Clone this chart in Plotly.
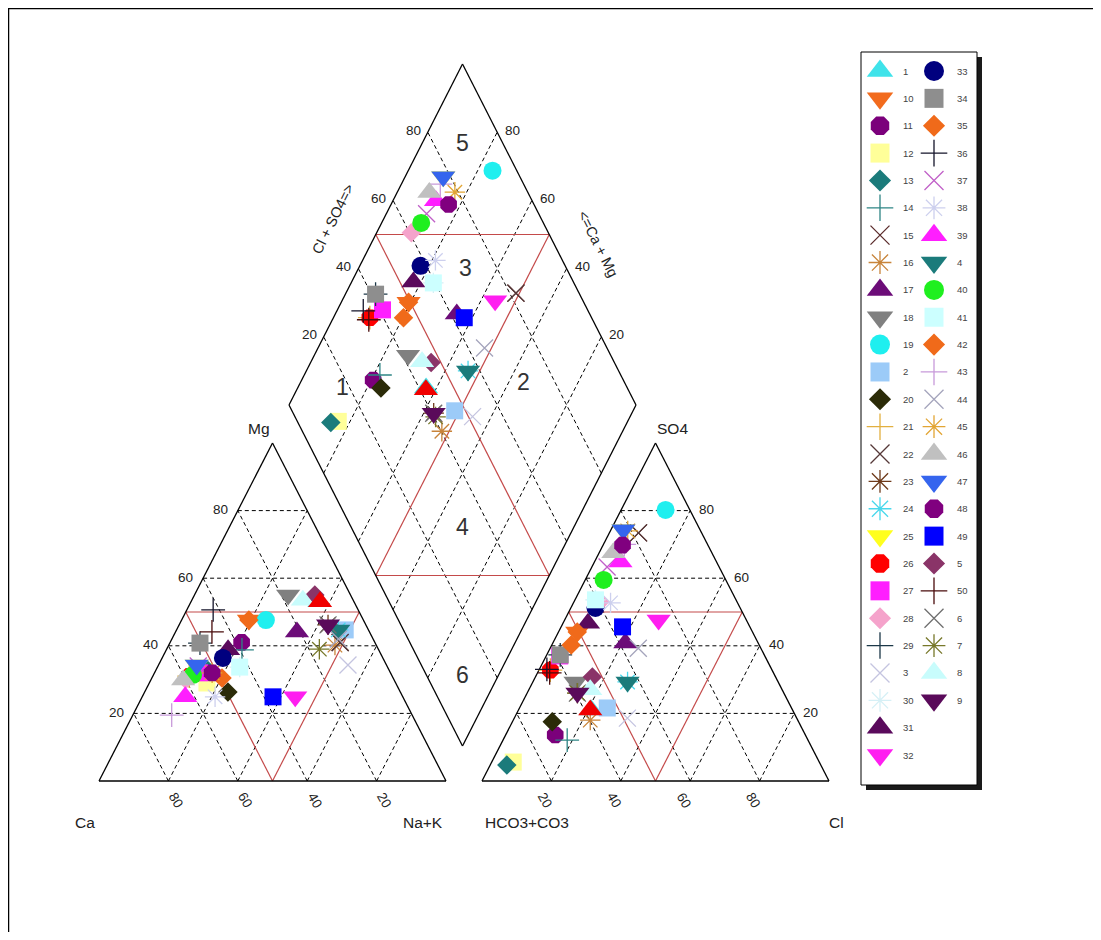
import plotly.graph_objects as go

# ---------------- data (percent of meq) ----------------
labels = ['1', '10', '11', '12', '13', '14', '15', '16', '17', '18', '19', '2', '20', '21', '22',
          '23', '24', '25', '26', '27', '28', '29', '3', '30', '31', '32', '33', '34', '35', '36',
          '37', '38', '39', '4', '40', '41', '42', '43', '44', '45', '46', '47', '48', '49', '5',
          '50', '6', '7', '8', '9']
ca = [10, 33, 38.4, 54.4, 52.4, 39.4, 10, 11.9, 20.9, 18, 28.1, 6.7, 49.7, 58.5, 10,
      10.9, 8.7, 54.7, 58.5, 55, 60, 50.5, 11.1, 42.6, 43.4, 31, 46.1, 50.5, 33, 41.8,
      54.4, 54.1, 62.7, 8.7, 57.2, 42.6, 49.3, 69.3, 10, 51.4, 60.8, 54.7, 51.4, 37.4, 10.3,
      45.4, 10.9, 17, 14.5, 10.9]
mg = [53, 47.6, 41, 29, 33, 38.8, 41, 40.2, 44.1, 55, 47.6, 44.7, 26.3, 31, 41,
      46.2, 44.7, 34.3, 31, 32, 30, 40.8, 34.3, 33.7, 38.8, 24.9, 36.4, 40.8, 47.6, 50.6,
      34, 24.9, 24.9, 44.7, 31.4, 33.7, 30.5, 19.5, 42, 32, 29.9, 34.3, 32, 24.9, 55,
      44.1, 46.2, 39, 53.5, 46.2]
na = [37, 19.4, 20.6, 16.6, 14.6, 21.8, 49, 47.9, 35, 27, 24.3, 48.6, 24, 10.5, 49,
      42.9, 46.6, 11, 10.5, 13, 10, 8.7, 54.6, 23.7, 17.8, 44.1, 17.5, 8.7, 19.4, 7.6,
      11.6, 21, 12.4, 46.6, 11.4, 23.7, 20.2, 11.2, 48, 16.6, 9.3, 11, 16.6, 37.7, 34.7,
      10.5, 42.9, 44, 32, 42.9]
hco3 = [58, 50.5, 72.1, 88.2, 90.5, 69.4, 18.2, 59.8, 38.3, 58.4, 7, 53.1, 71, 63.9, 18.2,
        59.5, 43.4, 22.1, 63.9, 59.1, 39.5, 58.8, 48.8, 40.5, 46.1, 25.3, 41.7, 58.8, 50.5, 64.8,
        32.3, 36.6, 27.7, 43.4, 35.2, 40.5, 54.2, 24, 35.3, 21, 28.4, 22.1, 24.6, 36.7, 52.8,
        64.5, 59.5, 59.5, 55.3, 59.5]
so4 = [21, 44.1, 13.6, 5.6, 4.7, 12.1, 73.4, 18, 40.8, 29.3, 80.2, 21.6, 17.5, 32.8, 73.4,
       26, 29.3, 74.3, 32.8, 37, 53, 37.3, 18.6, 53.6, 46.7, 47.6, 51.2, 37.3, 44.1, 33,
       63.3, 52.7, 64.8, 29.3, 59.5, 53.6, 40.2, 70, 39.3, 74, 67.5, 74.3, 69.8, 45.6, 30.8,
       32, 26, 26, 27, 26]
cl = [21, 5.4, 14.3, 6.2, 4.8, 18.5, 8.4, 22.2, 20.9, 12.3, 12.8, 25.3, 11.5, 3.3, 8.4,
      14.5, 27.3, 3.6, 3.3, 3.9, 7.5, 3.9, 32.6, 5.9, 7.2, 27.1, 7.1, 3.9, 5.4, 2.2,
      4.4, 10.7, 7.5, 27.3, 5.3, 5.9, 5.6, 6, 25.4, 5, 4.1, 3.6, 5.6, 17.7, 16.4,
      3.5, 14.5, 14.5, 17.7, 14.5]
symbols = ['triangle-up', 'triangle-down', 'octagon', 'square', 'diamond', 'cross-thin-open',
           'x-thin-open', 'asterisk-open', 'triangle-up', 'triangle-down', 'circle', 'square',
           'diamond', 'cross-thin-open', 'x-thin-open', 'asterisk-open', 'asterisk-open',
           'triangle-down', 'octagon', 'square', 'diamond', 'cross-thin-open', 'x-thin-open',
           'asterisk-open', 'triangle-up', 'triangle-down', 'circle', 'square', 'diamond',
           'cross-thin-open', 'x-thin-open', 'asterisk-open', 'triangle-up', 'triangle-down',
           'circle', 'square', 'diamond', 'cross-thin-open', 'x-thin-open', 'asterisk-open',
           'triangle-up', 'triangle-down', 'octagon', 'square', 'diamond', 'cross-thin-open',
           'x-thin-open', 'asterisk-open', 'triangle-up', 'triangle-down']
colors = ['#3FE3EA', '#F26B1D', '#7B007B', '#FFFF99', '#1B7B7B', '#2E8585', '#5A2A2A', '#C8843A',
          '#6C0C78', '#808080', '#1FEFEF', '#9CCBF8', '#2B2B08', '#E2B040', '#553838', '#6E3A1A',
          '#48D8EC', '#FFFF1E', '#FF0000', '#FF1EFF', '#F5A3CB', '#1C3848', '#C4C4E0', '#D6F0F6',
          '#5A0A5C', '#FF1EF0', '#00007F', '#8E8E8E', '#F06A1A', '#14142A', '#C060C8', '#CDD0EE',
          '#FF1EFF', '#1B7B7B', '#1FEF1F', '#CCFFFF', '#F06A1A', '#C89ADA', '#A4A4BC', '#E2A534',
          '#C0C0C0', '#3565EE', '#80007F', '#0000FF', '#8A3468', '#4A0C0C', '#6E6E6E', '#77782A',
          '#C8FCFC', '#5A0A5A']
# one plotted sample that has no legend entry (red triangle)
extra_ca, extra_mg, extra_na = [9.8], [53], [37.2]
extra_hco3, extra_so4, extra_cl = [58.3], [21], [20.7]
extra_symbol, extra_color = 'triangle-up', '#F00000'

ticks = [20, 40, 60, 80]
# region numbers: (label, Cl+SO4 fraction, Ca+Mg fraction)
regions = [('5', 0.884, 0.884), ('3', 0.711, 0.691), ('1', 0.182, 0.871), ('2', 0.711, 0.357),
           ('4', 0.321, 0.321), ('6', 0.104, 0.104)]

# ---------------- geometry (screen pixels) ----------------
OFF = 8
W, H = 1085, 924
CX0, CY0, TW, TH = 99.0, 781.0, 347.0, 338.0
AX0 = 482.0
DBX, DBY, DHW, DHH = 462.5, 746.0, 173.5, 341.0


def cat_xy(c, m, n):
    s = c + m + n
    m, n = m / s, n / s
    return CX0 + TW * (n + m / 2), CY0 - TH * m


def an_xy(h, s4, c):
    s = h + s4 + c
    s4, c = s4 / s, c / s
    return AX0 + TW * (c + s4 / 2), CY0 - TH * s4


def dia_xy(a, c):
    return DBX + DHW * (a - c), DBY - DHH * (a + c)


def dia_from(cc, mm, nn, hh, ss, ll):
    a = (ss + ll) / (hh + ss + ll)
    c = (cc + mm) / (cc + mm + nn)
    return dia_xy(a, c)


fig = go.Figure()
shapes = []
ann = []
FONT = "Liberation Sans, Arial, sans-serif"


def seg(p, q, color='black', width=1.2, dash=None):
    line = dict(color=color, width=width)
    if dash:
        line['dash'] = dash
    shapes.append(dict(type='line', xref='x', yref='y', x0=p[0], y0=p[1], x1=q[0], y1=q[1],
                       line=line, layer='below'))


DASH = '4px,3px'
RED = '#C44A4A'
for t in ticks:
    v = t / 100
    seg(cat_xy(1 - v, v, 0), cat_xy(0, v, 1 - v), dash=DASH, width=1)
    seg(cat_xy(1 - v, 0, v), cat_xy(0, 1 - v, v), dash=DASH, width=1)
    seg(cat_xy(v, 0, 1 - v), cat_xy(v, 1 - v, 0), dash=DASH, width=1)
    seg(an_xy(1 - v, v, 0), an_xy(0, v, 1 - v), dash=DASH, width=1)
    seg(an_xy(1 - v, 0, v), an_xy(0, 1 - v, v), dash=DASH, width=1)
    seg(an_xy(v, 0, 1 - v), an_xy(v, 1 - v, 0), dash=DASH, width=1)
    seg(dia_xy(v, 0), dia_xy(v, 1), dash=DASH, width=1)
    seg(dia_xy(0, v), dia_xy(1, v), dash=DASH, width=1)
# red subdivisions
seg(cat_xy(.5, .5, 0), cat_xy(0, .5, .5), color=RED, width=1.2)
seg(cat_xy(.5, .5, 0), cat_xy(.5, 0, .5), color=RED, width=1.2)
seg(cat_xy(0, .5, .5), cat_xy(.5, 0, .5), color=RED, width=1.2)
seg(an_xy(.5, .5, 0), an_xy(0, .5, .5), color=RED, width=1.2)
seg(an_xy(.5, .5, 0), an_xy(.5, 0, .5), color=RED, width=1.2)
seg(an_xy(0, .5, .5), an_xy(.5, 0, .5), color=RED, width=1.2)
seg(dia_xy(.5, 0), dia_xy(.5, 1), color=RED, width=1.2)
seg(dia_xy(0, .5), dia_xy(1, .5), color=RED, width=1.2)
seg(dia_xy(.5, 1), dia_xy(1, .5), color=RED, width=1.2)
seg(dia_xy(0, .5), dia_xy(.5, 0), color=RED, width=1.2)
# outlines
for poly in ([cat_xy(1, 0, 0), cat_xy(0, 1, 0), cat_xy(0, 0, 1)],
             [an_xy(1, 0, 0), an_xy(0, 1, 0), an_xy(0, 0, 1)],
             [dia_xy(0, 0), dia_xy(1, 0), dia_xy(1, 1), dia_xy(0, 1)]):
    for i in range(len(poly)):
        seg(poly[i], poly[(i + 1) % len(poly)], width=1.3)


def text(x, y, s, size=13.5, angle=0, xanchor='center', color='#222'):
    ann.append(dict(x=x, y=y, xref='x', yref='y', text=s, showarrow=False, textangle=angle,
                    xanchor=xanchor, yanchor='middle', font=dict(family=FONT, size=size, color=color)))


for t in ticks:
    v = t / 100
    x, y = cat_xy(1 - v, v, 0)
    text(x - 8, y - 1, str(t), xanchor='right')
    x, y = an_xy(0, v, 1 - v)
    text(x + 7, y - 1, str(t), xanchor='left')
    x, y = cat_xy(v, 0, 1 - v)
    text(x + 8, y + 19, str(t), angle=60)
    x, y = an_xy(1 - v, 0, v)
    text(x - 6, y + 19, str(t), angle=60)
    x, y = dia_xy(v, 1)
    text(x - 5, y - 2, str(t), xanchor='right')
    x, y = dia_xy(1, v)
    text(x + 6, y - 2, str(t), xanchor='left')

text(85, 822, 'Ca', size=15.5)
text(423, 822, 'Na+K', size=15.5)
text(259, 428, 'Mg', size=15.5)
text(527, 822, 'HCO3+CO3', size=15.5)
text(836, 822, 'Cl', size=15.5)
text(672, 428, 'SO4', size=15.5)
text(333, 219, 'Cl + SO4=>', size=14.5, angle=-63.4)
text(598, 244, '<=Ca + Mg', size=14.5, angle=63.4)
for name, a, c in regions:
    x, y = dia_xy(a, c)
    text(x, y, name, size=23, color='#333')


# ---------------- markers ----------------
def msize(sym, legend=False):
    base = {'triangle-up': 21, 'triangle-down': 21, 'circle': 18, 'octagon': 18, 'square': 17,
            'diamond': 15}.get(sym, 17)
    return base + (2 if legend else 0)


def marker(sym, col, legend=False):
    thin = sym.endswith('-open')
    return dict(symbol=sym, size=msize(sym, legend), color=col,
                line=dict(color=col, width=1.3 if thin else 0))


all_ca = ca + extra_ca
all_mg = mg + extra_mg
all_na = na + extra_na
all_h = hco3 + extra_hco3
all_s = so4 + extra_so4
all_c = cl + extra_cl
all_sym = symbols + [extra_symbol]
all_col = colors + [extra_color]
for i in range(len(all_ca)):
    pc = cat_xy(all_ca[i], all_mg[i], all_na[i])
    pa = an_xy(all_h[i], all_s[i], all_c[i])
    pd = dia_from(all_ca[i], all_mg[i], all_na[i], all_h[i], all_s[i], all_c[i])
    fig.add_trace(go.Scatter(x=[pc[0], pa[0], pd[0]], y=[pc[1], pa[1], pd[1]], mode='markers',
                             marker=marker(all_sym[i], all_col[i]), showlegend=False,
                             hoverinfo='skip'))

# ---------------- legend box ----------------
LX0, LY0, LX1, LY1 = 861, 52, 977, 785
shapes.append(dict(type='rect', xref='x', yref='y', x0=LX0 + 5, y0=LY0 + 5, x1=LX1 + 5, y1=LY1 + 5,
                   fillcolor='#1a1a1a', line=dict(width=0), layer='below'))
shapes.append(dict(type='rect', xref='x', yref='y', x0=LX0, y0=LY0, x1=LX1, y1=LY1,
                   fillcolor='white', line=dict(color='black', width=1), layer='below'))
col_len = 26
for i, lab in enumerate(labels):
    col, row = divmod(i, col_len)
    mx = 880 if col == 0 else 934
    ty = 71 + row * 27.36
    fig.add_trace(go.Scatter(x=[mx], y=[ty], mode='markers', marker=marker(symbols[i], colors[i], True),
                             showlegend=False, hoverinfo='skip'))
    text(mx + 21, ty, lab, size=9.5, xanchor='left', color='#444')

# page frame
shapes.append(dict(type='line', xref='x', yref='y', x0=OFF, y0=OFF + 0.5, x1=OFF + W, y1=OFF + 0.5,
                   line=dict(color='black', width=1.5)))
shapes.append(dict(type='line', xref='x', yref='y', x0=OFF + 0.5, y0=OFF, x1=OFF + 0.5, y1=OFF + H,
                   line=dict(color='black', width=1.5)))

fig.update_layout(width=W, height=H, margin=dict(l=0, r=0, t=0, b=0),
                  paper_bgcolor='white', plot_bgcolor='white',
                  xaxis=dict(range=[OFF, OFF + W], visible=False, fixedrange=True),
                  yaxis=dict(range=[OFF + H, OFF], visible=False, fixedrange=True),
                  shapes=shapes, annotations=ann, showlegend=False)
fig.write_html("out.html", config={'displayModeBar': False})
